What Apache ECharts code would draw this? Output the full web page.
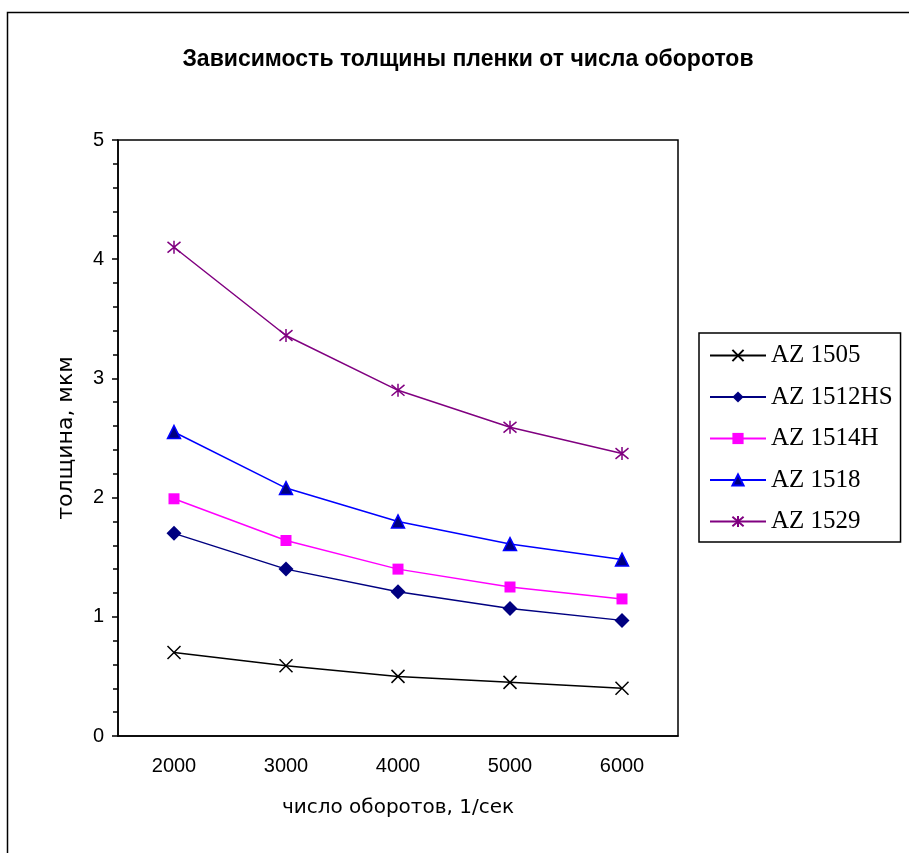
<!DOCTYPE html>
<html><head><meta charset="utf-8">
<script src="https://cdn.jsdelivr.net/npm/echarts@6/dist/echarts.min.js"></script>
<style>html,body{margin:0;padding:0;background:#fff}#c{width:909px;height:853px}</style>
</head><body><div id="c"></div>
<script>
const categories = ['2000','3000','4000','5000','6000'];
const az1505 = [0.70, 0.59, 0.50, 0.45, 0.40];
const az1512HS = [1.70, 1.40, 1.21, 1.07, 0.97];
const az1514H = [1.99, 1.64, 1.40, 1.25, 1.15];
const az1518 = [2.55, 2.08, 1.80, 1.61, 1.48];
const az1529 = [4.10, 3.36, 2.90, 2.59, 2.37];

const crossPath = 'path://M0,0L10,10M10,0L0,10';
const starPath = 'path://M0,0L10,10M10,0L0,10M5,-1L5,11';

const chart = echarts.init(document.getElementById('c'));
const axisLbl = {fontFamily:'Liberation Sans, Arial', fontSize:20, color:'#000'};
chart.setOption({
  animation:false,
  graphic:[{type:'rect', left:5, top:10, shape:{width:910, height:850}, style:{fill:'none', stroke:'#000', lineWidth:1.5}, silent:true}],
  title:{text:'Зависимость толщины пленки от числа оборотов', left:463, top:43, textAlign:'center',
    textStyle:{fontFamily:'Liberation Sans, Arial', fontWeight:'bold', fontSize:23, color:'#000'}},
  legend:{orient:'vertical', left:699, top:333, width:199, height:209, padding:[10,8,8,10], itemGap:16.5,
    itemWidth:56, itemHeight:14, borderColor:'#000', borderWidth:1.5,
    textStyle:{fontFamily:'Liberation Serif, Times New Roman', fontSize:25, color:'#000'},
    data:['AZ 1505','AZ 1512HS','AZ 1514H','AZ 1518','AZ 1529']},
  grid:{left:118, top:140, width:560, height:596, show:true, borderColor:'#000', borderWidth:1.5, backgroundColor:'#fff'},
  xAxis:[
    {type:'category', data:categories, position:'bottom', boundaryGap:true,
     axisLine:{lineStyle:{color:'#000', width:1.5}}, axisTick:{alignWithLabel:false, length:6, lineStyle:{color:'#000', width:1.5}},
     axisLabel:Object.assign({margin:20}, axisLbl),
     name:'число оборотов, 1/сек', nameLocation:'middle', nameGap:62,
     nameTextStyle:{fontFamily:'DejaVu Sans, Tahoma', fontSize:20, color:'#000'}},
    {type:'category', data:categories, position:'bottom', boundaryGap:true,
     axisLine:{show:false}, axisTick:{alignWithLabel:true, inside:true, length:6, lineStyle:{color:'#000', width:1.5}},
     axisLabel:{show:false}},
    {type:'category', data:categories, position:'bottom', boundaryGap:true,
     axisLine:{show:false}, axisTick:{alignWithLabel:true, inside:false, length:6, lineStyle:{color:'#000', width:1.5}},
     axisLabel:{show:false}}
  ],
  yAxis:{type:'value', min:0, max:5, interval:1,
    axisLine:{show:true, lineStyle:{color:'#000', width:1.5}},
    axisTick:{show:true, length:6, lineStyle:{color:'#000', width:1.5}},
    minorTick:{show:true, splitNumber:5, length:5, lineStyle:{color:'#000', width:1.5}},
    splitLine:{show:false},
    axisLabel:Object.assign({margin:14}, axisLbl),
    name:'толщина, мкм', nameLocation:'middle', nameGap:41, nameRotate:90,
    nameTextStyle:{fontFamily:'DejaVu Sans, Tahoma', fontSize:22, color:'#000'}},
  series:[
    {name:'AZ 1505', type:'line', data:az1505, symbol:crossPath, symbolSize:13,
     lineStyle:{color:'#000', width:1.5}, itemStyle:{color:'#000', borderColor:'#000', borderWidth:1.5}},
    {name:'AZ 1512HS', type:'line', data:az1512HS, symbol:'diamond', symbolSize:15,
     lineStyle:{color:'#000080', width:1.5}, itemStyle:{color:'#000080'}},
    {name:'AZ 1514H', type:'line', data:az1514H, symbol:'rect', symbolSize:11,
     lineStyle:{color:'#FF00FF', width:1.5}, itemStyle:{color:'#FF00FF'}},
    {name:'AZ 1518', type:'line', data:az1518, symbol:'triangle', symbolSize:13,
     lineStyle:{color:'#0000FF', width:1.5}, itemStyle:{color:'#000080', borderColor:'#0000FF', borderWidth:1.5}},
    {name:'AZ 1529', type:'line', data:az1529, symbol:starPath, symbolSize:13,
     lineStyle:{color:'#800080', width:1.5}, itemStyle:{color:'#800080', borderColor:'#800080', borderWidth:1.5}}
  ]
});
</script></body></html>
